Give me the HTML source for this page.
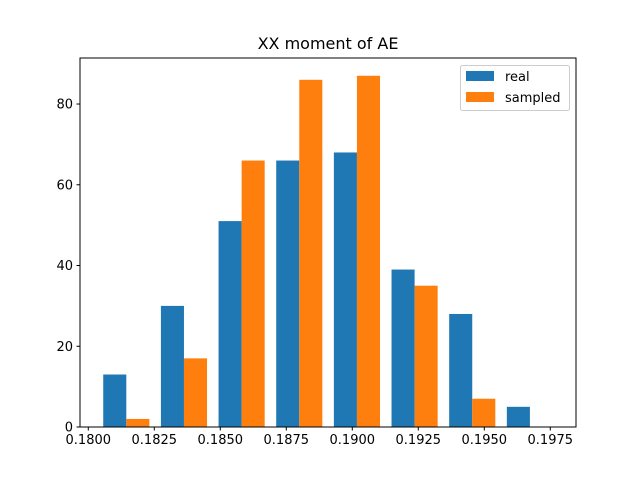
<!DOCTYPE html>
<html><head><meta charset="utf-8"><style>
body{margin:0;background:#fff}
svg text{font-family:"DejaVu Sans","Liberation Sans",sans-serif;}
</style></head><body>
<svg id="chart" width="640" height="480" xmlns="http://www.w3.org/2000/svg">
<rect width="640" height="480" fill="#fff"/>
<text x="328" y="49" font-size="16" text-anchor="middle">XX moment of AE</text>
<g id="bars"></g>
<g id="xticks"></g>
<g id="yticks"></g>
<rect x="80" y="58" width="496" height="369" fill="none" stroke="#000" stroke-width="1"/>
<g>
<rect x="460.5" y="65.5" width="109" height="45" rx="2" fill="#fff" stroke="#ccc"/>
<rect x="466" y="71" width="28" height="10" fill="#1f77b4"/>
<text x="505" y="81" font-size="13">real</text>
<rect x="466" y="92" width="28" height="10" fill="#ff7f0e"/>
<text x="505" y="102" font-size="13">sampled</text>
</g>
</svg>
<script>
const binStart = 0.180348;
const binWidth = 0.002184;
const realCounts = [13, 30, 51, 66, 68, 39, 28, 5];
const sampledCounts = [2, 17, 66, 86, 87, 35, 7, 0];
const xTickValues = [0.1800, 0.1825, 0.1850, 0.1875, 0.1900, 0.1925, 0.1950, 0.1975];
const yTickValues = [0, 20, 40, 60, 80];

const X0 = 80, X1 = 576, Y0 = 427, Y1 = 58;
const xMin = 0.179686, xMax = 0.198474, yMin = 0, yMax = 91.4;
const xs = v => X0 + (v - xMin) / (xMax - xMin) * (X1 - X0);
const ys = v => Y0 - (v - yMin) / (yMax - yMin) * (Y0 - Y1);
const NS = "http://www.w3.org/2000/svg";
function mk(tag, attrs, parent){const e=document.createElementNS(NS,tag);for(const k in attrs)e.setAttribute(k,attrs[k]);parent.appendChild(e);return e;}

const bars = document.getElementById('bars');
const series = [[realCounts, '#1f77b4', 'real'], [sampledCounts, '#ff7f0e', 'sampled']];
series.forEach(([vals, color, name], si) => {
  vals.forEach((v, i) => {
    const left = binStart + binWidth * (i + 0.1 + 0.4 * si);
    const right = left + binWidth * 0.4;
    const r = mk('rect', {x: xs(left), y: ys(v), width: xs(right) - xs(left), height: ys(0) - ys(v), fill: color}, bars);
    
    
  });
});

const xt = document.getElementById('xticks');
xTickValues.forEach(v => {
  const x = xs(v);
  const l = mk('line', {x1: x, x2: x, y1: Y0, y2: Y0 + 3.5, stroke: '#000'}, xt);
  
  
  const t = mk('text', {x: x, y: Y0 + 17, 'font-size': 13, 'text-anchor': 'middle'}, xt);
  t.textContent = v.toFixed(4);
  
  
});
const yt = document.getElementById('yticks');
yTickValues.forEach(v => {
  const y = ys(v);
  const l = mk('line', {x1: X0 - 3.5, x2: X0, y1: y, y2: y, stroke: '#000'}, yt);
  
  
  const t = mk('text', {x: X0 - 7, y: y + 4.5, 'font-size': 13, 'text-anchor': 'end'}, yt);
  t.textContent = v;
  
  
});
</script>
</body></html>
